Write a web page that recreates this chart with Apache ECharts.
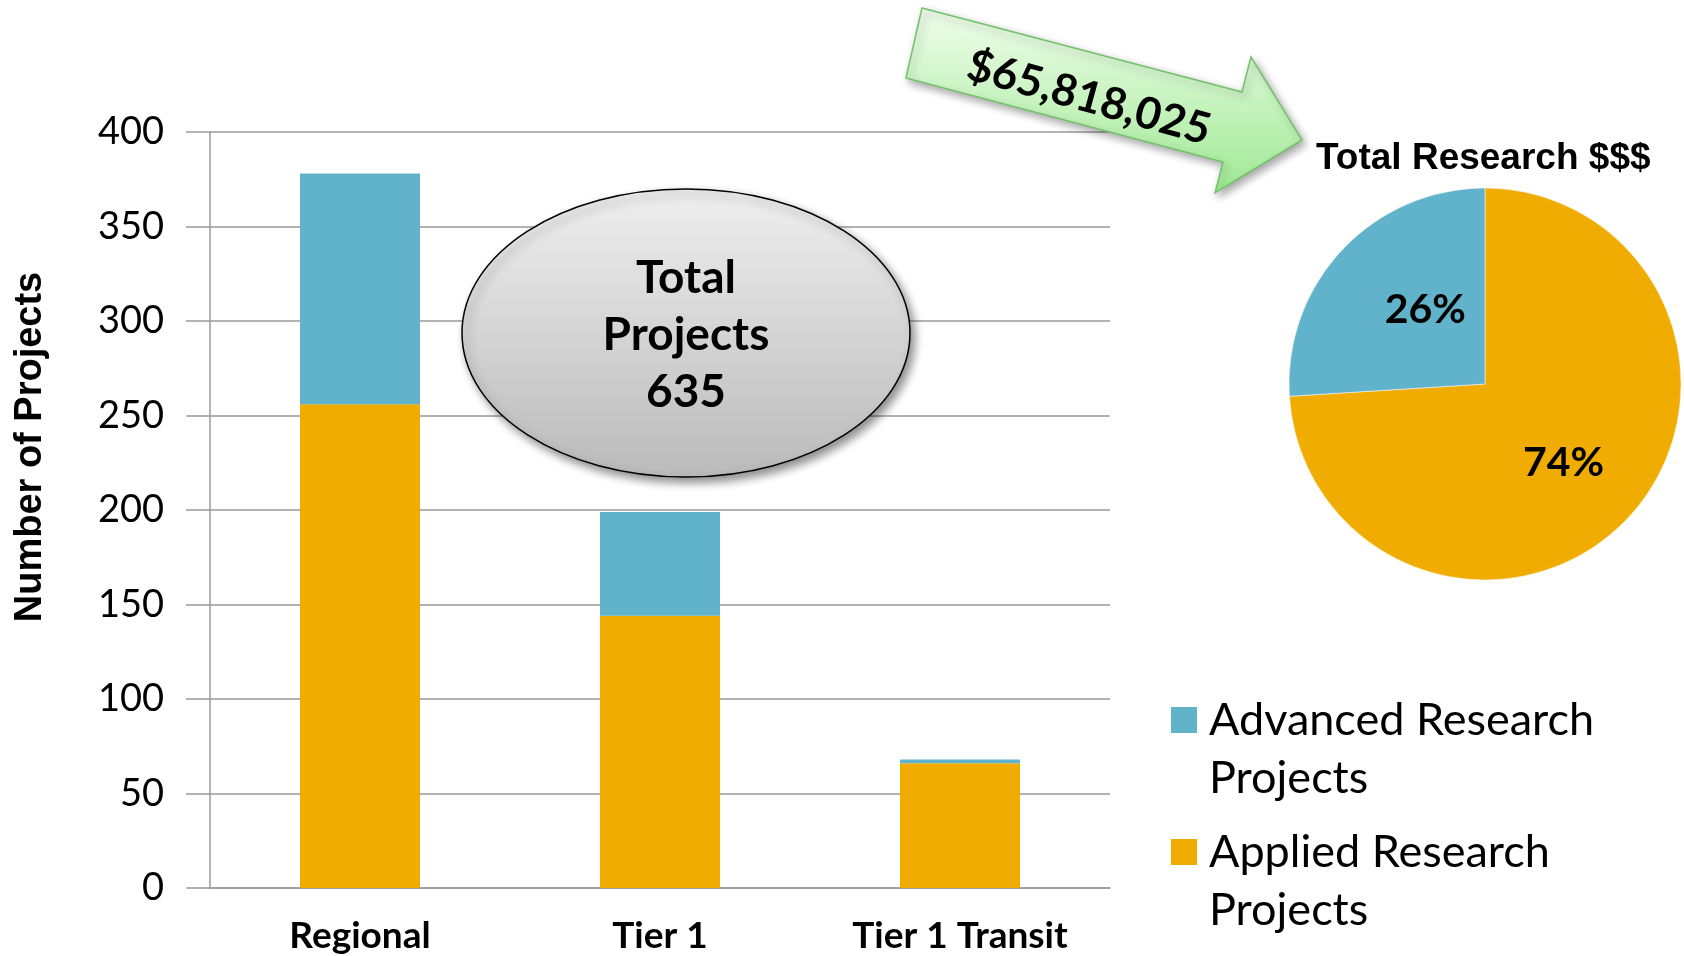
<!DOCTYPE html>
<html>
<head>
<meta charset="utf-8">
<title>Research Projects</title>
<script src="https://cdn.jsdelivr.net/npm/echarts@6/dist/echarts.min.js"></script>
<style>
html, body { margin: 0; padding: 0; background: #fff; }
#chart { width: 1684px; height: 956px; }
</style>
</head>
<body>
<div id="chart"></div>
<script>
// bar chart data
var categories = ['Regional', 'Tier 1', 'Tier 1 Transit'];
var appliedProjects = [256, 144, 66];
var advancedProjects = [122, 55, 2];
var yTicks = [0, 50, 100, 150, 200, 250, 300, 350, 400];

// pie data (share of research dollars, %)
var pieNames = ['Applied Research Projects', 'Advanced Research Projects'];
var pieShares = [74, 26];

var totalProjects = '635';
var totalDollars = '$65,818,025';

var blue = '#61b3cb';
var orange = '#f0ac00';
var candara = 'Lato, "Open Sans", sans-serif';
var arial = '"Liberation Sans", Arial, sans-serif';

var chart = echarts.init(document.getElementById('chart'));

var option = {
    animation: false,
    title: {
        text: 'Total Research $$$',
        left: 1316,
        top: 140,
        padding: 0,
        textStyle: { fontFamily: arial, fontWeight: 'bold', fontSize: 37, color: '#000' }
    },
    legend: {
        orient: 'vertical',
        left: 1171,
        top: 633,
        padding: 0,
        itemGap: -42,
        itemWidth: 26,
        itemHeight: 26,
        icon: 'rect',
        data: ['Advanced Research Projects', 'Applied Research Projects'],
        // blank first line so the first text line sits level with the swatch
        formatter: function (name) { return ' \n' + name.replace(' Projects', '\nProjects'); },
        textStyle: {
            fontFamily: candara, fontSize: 45, color: '#000',
            lineHeight: 58, padding: [0, 0, 0, 7]
        }
    },
    grid: { left: 210, right: 574, top: 132, bottom: 68 },
    xAxis: {
        type: 'category',
        data: categories,
        axisLine: { lineStyle: { color: '#9a9a9a', width: 1.5 } },
        axisTick: { length: 12, lineStyle: { color: '#9a9a9a', width: 1.5 } },
        axisLabel: { margin: 30, fontFamily: candara, fontWeight: 'bold', fontSize: 37, color: '#000' }
    },
    yAxis: {
        type: 'value',
        min: yTicks[0],
        max: yTicks[yTicks.length - 1],
        interval: yTicks[1] - yTicks[0],
        name: 'Number of Projects',
        nameLocation: 'middle',
        nameGap: 160,
        nameTextStyle: {
            fontFamily: arial, fontWeight: 'bold', fontSize: 38, color: '#000',
            padding: [0, 0, 0, 126]
        },
        axisLine: { show: true, lineStyle: { color: '#9a9a9a', width: 1.5 } },
        axisTick: { show: true, length: 24, lineStyle: { color: '#9a9a9a', width: 1.5 } },
        splitLine: { lineStyle: { color: '#9a9a9a', width: 1.5 } },
        axisLabel: { margin: 46, fontFamily: candara, fontSize: 38, color: '#000' }
    },
    series: [
        {
            name: 'Applied Research Projects',
            type: 'bar',
            stack: 'total',
            barWidth: '40%',
            itemStyle: { color: orange },
            data: appliedProjects
        },
        {
            name: 'Advanced Research Projects',
            type: 'bar',
            stack: 'total',
            barWidth: '40%',
            itemStyle: { color: blue },
            data: advancedProjects
        },
        {
            name: 'Total Research $$$',
            type: 'pie',
            center: [1485, 384],
            radius: 196,
            startAngle: 90,
            clockwise: true,
            itemStyle: { borderColor: '#fff', borderWidth: 0.5 },
            label: {
                position: 'inside',
                formatter: '{d}%',
                fontFamily: candara, fontWeight: 'bold', fontSize: 41, color: '#000'
            },
            labelLine: { show: false },
            data: [
                { name: pieNames[0], value: pieShares[0], itemStyle: { color: orange }, label: { offset: [5, 10] } },
                { name: pieNames[1], value: pieShares[1], itemStyle: { color: blue }, label: { offset: [14, -5] } }
            ]
        }
    ],
    graphic: [
        {
            type: 'ellipse',
            z: 100,
            shape: { cx: 686, cy: 333, rx: 224, ry: 144 },
            style: {
                fill: new echarts.graphic.LinearGradient(0, 0, 0, 1, [
                    { offset: 0, color: '#efefef' },
                    { offset: 1, color: '#bababa' }
                ]),
                stroke: '#000',
                lineWidth: 1.5,
                shadowBlur: 10,
                shadowOffsetX: 4,
                shadowOffsetY: 5,
                shadowColor: 'rgba(0,0,0,0.45)'
            }
        },
        {
            type: 'text',
            z: 101,
            x: 686,
            y: 335,
            style: {
                text: 'Total\nProjects\n' + totalProjects,
                align: 'center',
                verticalAlign: 'middle',
                lineHeight: 57,
                font: 'bold 46px ' + candara,
                fill: '#000'
            }
        },
        {
            type: 'polygon',
            z: 100,
            shape: {
                points: [[922, 8], [1242, 92], [1251, 57], [1302, 140], [1215, 193], [1223, 162], [906, 78]]
            },
            style: {
                fill: new echarts.graphic.LinearGradient(0, 0, 0, 1, [
                    { offset: 0, color: '#f0fdec' },
                    { offset: 1, color: '#9fe993' }
                ]),
                stroke: '#72c26a',
                lineWidth: 1.5,
                shadowBlur: 8,
                shadowOffsetX: 3,
                shadowOffsetY: 4,
                shadowColor: 'rgba(0,0,0,0.35)'
            }
        },
        {
            type: 'text',
            z: 101,
            x: 1089,
            y: 98,
            rotation: -0.27,
            style: {
                text: totalDollars,
                align: 'center',
                verticalAlign: 'middle',
                font: 'bold 44px ' + candara,
                fill: '#000'
            }
        }
    ]
};

chart.setOption(option);
</script>
</body>
</html>
